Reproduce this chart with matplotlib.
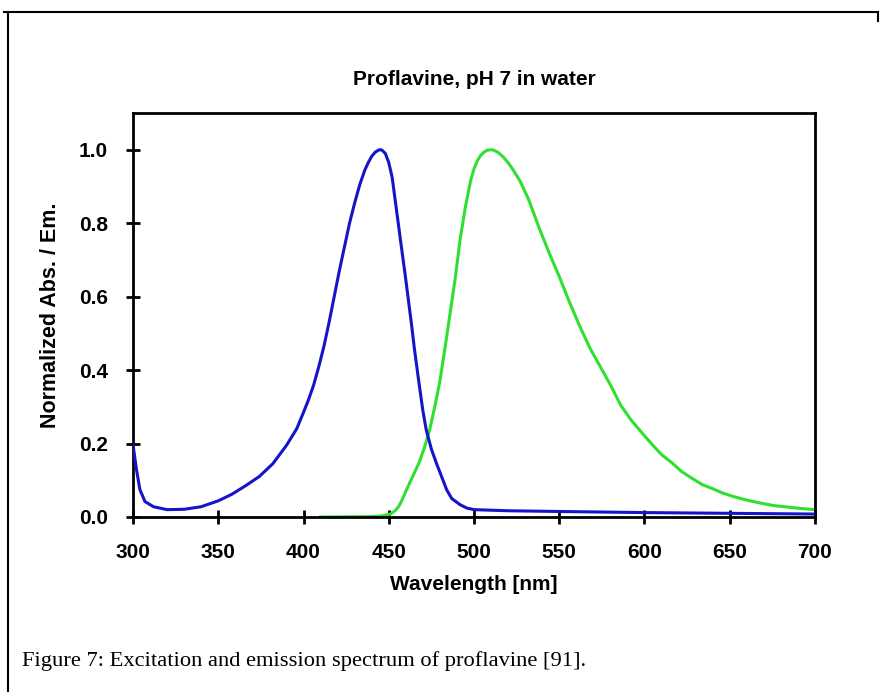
import matplotlib.pyplot as plt
from matplotlib.lines import Line2D

# excitation (blue) spectrum
exc_nm = [300, 302, 304, 307, 312, 320, 330, 340, 350, 358, 366, 374, 382, 390, 396,
          400, 403, 406, 409, 412, 415, 418, 421, 424, 427, 430, 433, 436, 438, 440,
          442, 444, 445, 446, 448, 450, 452, 455, 457, 459.5, 461, 463.5, 465, 467.5,
          470, 472, 475, 478, 481, 484, 487, 492, 496, 500, 520, 550, 600, 650, 700]
exc_val = [0.196, 0.13, 0.075, 0.042, 0.028, 0.02, 0.021, 0.028, 0.044, 0.062, 0.085,
           0.11, 0.145, 0.195, 0.24, 0.285, 0.32, 0.36, 0.41, 0.465, 0.53, 0.60, 0.67,
           0.735, 0.80, 0.855, 0.905, 0.945, 0.965, 0.982, 0.993, 0.999, 1.0, 0.999,
           0.99, 0.965, 0.925, 0.82, 0.75, 0.664, 0.61, 0.519, 0.46, 0.373, 0.29, 0.237,
           0.185, 0.146, 0.11, 0.074, 0.05, 0.033, 0.024, 0.02, 0.017, 0.015, 0.012,
           0.01, 0.008]

# emission (green) spectrum
em_nm = [410, 440, 446, 451, 454, 456, 458, 460, 462, 464, 468, 471, 474, 477, 480, 483,
         486, 489, 492, 495, 498, 500, 502, 504, 506, 508, 511, 514, 517, 520, 523, 527,
         532, 538, 544, 550, 556, 562, 568, 574, 580, 586, 592, 598, 604, 610, 616, 622,
         628, 634, 640, 646, 652, 660, 668, 676, 684, 692, 700]
em_val = [0.0, 0.001, 0.003, 0.008, 0.018, 0.03, 0.048, 0.07, 0.09, 0.11, 0.15, 0.19,
          0.237, 0.30, 0.37, 0.46, 0.555, 0.65, 0.76, 0.845, 0.915, 0.948, 0.97, 0.985,
          0.994, 0.999, 1.0, 0.993, 0.981, 0.965, 0.945, 0.915, 0.865, 0.79, 0.72, 0.655,
          0.585, 0.52, 0.46, 0.41, 0.36, 0.305, 0.265, 0.232, 0.20, 0.17, 0.148, 0.123,
          0.105, 0.088, 0.077, 0.065, 0.056, 0.046, 0.038, 0.031, 0.027, 0.023, 0.02]

x_ticks = [300, 350, 400, 450, 500, 550, 600, 650, 700]
y_ticks = [0.0, 0.2, 0.4, 0.6, 0.8, 1.0]

plt.rcParams['font.family'] = ['Liberation Sans', 'DejaVu Sans']

fig = plt.figure(figsize=(8.81, 6.92), dpi=100)
ax = fig.add_axes([0.151, 0.2529, 0.774, 0.5838])

ax.plot(exc_nm, exc_val, color='#1414c8', lw=2.2, zorder=3)
ax.plot(em_nm, em_val, color='#30e030', lw=2.2, zorder=2)

ax.set_xlim(300, 700)
ax.set_ylim(0, 1.1)
ax.set_xticks(x_ticks)
ax.set_yticks(y_ticks)
ax.set_yticklabels([f'{v:.1f}' for v in y_ticks])
ax.tick_params(direction='inout', length=10, width=2, labelsize=15,
               top=False, right=False)
ax.tick_params(axis='x', pad=14)
ax.tick_params(axis='y', pad=13)
for lab in ax.get_xticklabels() + ax.get_yticklabels():
    lab.set_fontweight('bold')
for s in ax.spines.values():
    s.set_linewidth(2)

ax.set_xlabel('Wavelength [nm]', fontsize=15, fontweight='bold', labelpad=9)
ax.set_ylabel('Normalized Abs. / Em.', fontsize=15.5, fontweight='bold', labelpad=13)
ax.set_title('Proflavine, pH 7 in water', fontsize=15, fontweight='bold', pad=20)

# outer frame of the figure box
fig.add_artist(Line2D([0.004, 0.997], [0.983, 0.983], color='black', lw=1.5))
fig.add_artist(Line2D([0.009, 0.009], [0.983, 0.0], color='black', lw=1.5))
fig.add_artist(Line2D([0.997, 0.997], [0.983, 0.970], color='black', lw=1.5))

fig.text(0.025, 0.045, 'Figure 7: Excitation and emission spectrum of proflavine [91].',
         family='Liberation Serif', fontsize=16.2, va='center', ha='left')

fig.savefig('out.png', dpi=100)
